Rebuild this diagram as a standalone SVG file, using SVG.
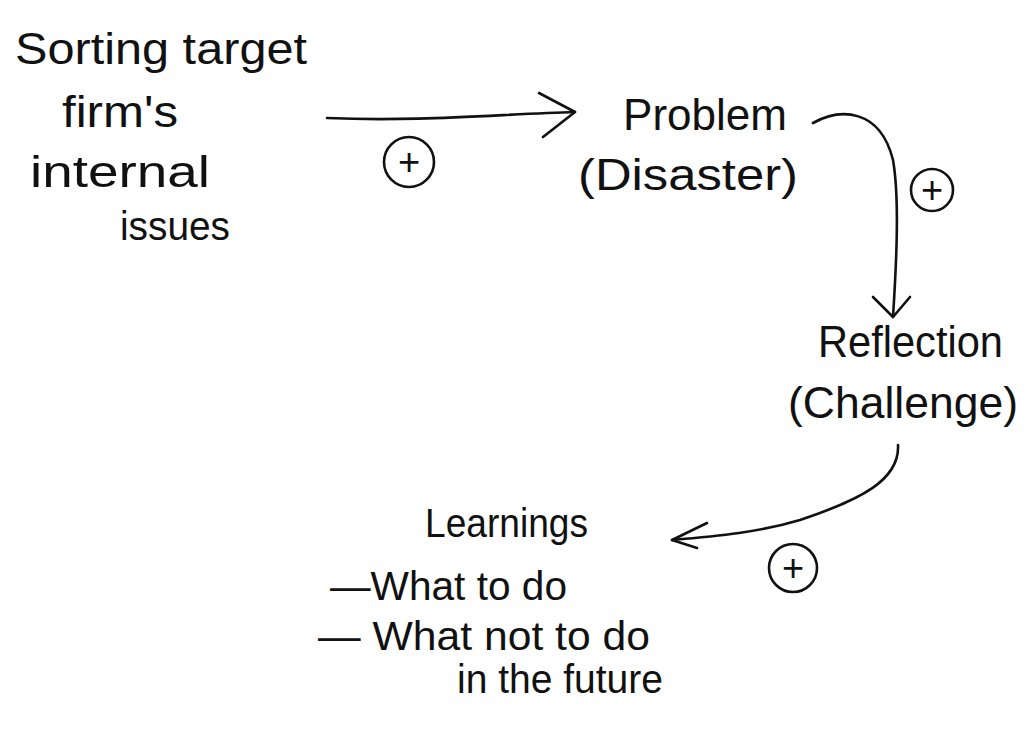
<svg xmlns="http://www.w3.org/2000/svg" width="1029" height="732" viewBox="0 0 1029 732">
  <style>
    .lbl { font-family: "Liberation Sans", "DejaVu Sans", sans-serif; font-size: 44px; fill: #111; }
    .sm { font-size: 40px; }
    .conn { fill: none; stroke: #111; stroke-width: 2.6; stroke-linecap: round; stroke-linejoin: round; }
    .sign circle { fill: none; stroke: #111; stroke-width: 2.6; }
    .sign text { font-family: "Liberation Sans", "DejaVu Sans", sans-serif; font-size: 38px; fill: #111; text-anchor: middle; }
  </style>
  <rect width="1029" height="732" fill="#ffffff"/>

  <!-- connectors with open chevron heads -->
  <g id="connectors">
    <path class="conn" d="M327 118 C 420 122, 500 114, 575 112"/>
    <path class="conn" d="M539 93 L575 112 L543 137"/>

    <path class="conn" d="M813 123 C 840 108, 880 108, 893 160 C 900 200, 896 270, 893 317"/>
    <path class="conn" d="M873 297 L893 317 L910 297"/>

    <path class="conn" d="M898 445 C 900 480, 860 500, 800 520 C 760 532, 720 536, 672 540"/>
    <path class="conn" d="M707 523 L672 540 L697 548"/>
  </g>

  <!-- polarity signs on the links -->
  <g id="sign-1" class="sign">
    <circle cx="409" cy="162" r="25"/>
    <text x="409" y="175">+</text>
  </g>
  <g id="sign-2" class="sign">
    <circle cx="932" cy="190" r="21"/>
    <text x="932" y="203">+</text>
  </g>
  <g id="sign-3" class="sign">
    <circle cx="793" cy="568" r="24"/>
    <text x="793" y="581">+</text>
  </g>

  <g id="node-sorting">
    <text class="lbl" x="15" y="64" textLength="292" lengthAdjust="spacingAndGlyphs">Sorting target</text>
    <text class="lbl" x="62" y="127" textLength="116" lengthAdjust="spacingAndGlyphs">firm's</text>
    <text class="lbl" x="30" y="187" textLength="180" lengthAdjust="spacingAndGlyphs">internal</text>
    <text class="lbl" x="120" y="240" style="font-size:40px" textLength="110" lengthAdjust="spacingAndGlyphs">issues</text>
  </g>

  <g id="node-problem">
    <text class="lbl" x="623" y="130" textLength="164" lengthAdjust="spacingAndGlyphs">Problem</text>
    <text class="lbl" x="578" y="190" textLength="220" lengthAdjust="spacingAndGlyphs">(Disaster)</text>
  </g>

  <g id="node-reflection">
    <text class="lbl" x="818" y="357" textLength="185" lengthAdjust="spacingAndGlyphs">Reflection</text>
    <text class="lbl" x="788" y="418" textLength="230" lengthAdjust="spacingAndGlyphs">(Challenge)</text>
  </g>

  <g id="node-learnings">
    <text class="lbl" x="425" y="537" style="font-size:40px" textLength="163" lengthAdjust="spacingAndGlyphs">Learnings</text>
    <text class="lbl sm" x="330" y="600" textLength="237" lengthAdjust="spacingAndGlyphs">—What to do</text>
    <text class="lbl sm" x="318" y="650" textLength="332" lengthAdjust="spacingAndGlyphs">— What not to do</text>
    <text class="lbl sm" x="457" y="693" textLength="206" lengthAdjust="spacingAndGlyphs">in the future</text>
  </g>
</svg>
